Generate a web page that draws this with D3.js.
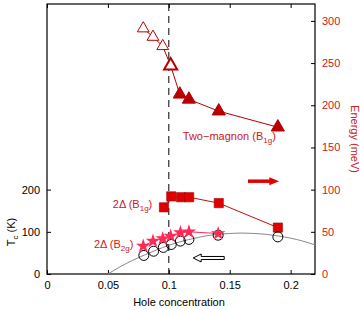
<!DOCTYPE html>
<html>
<head>
<meta charset="utf-8">
<script src="https://cdn.jsdelivr.net/npm/d3@7"></script>
<style>
  body { margin: 0; background: #fff; }
  text { font-family: "Liberation Sans", Arial, sans-serif; }
</style>
</head>
<body>
<svg width="360" height="310"></svg>
<script>
// two-magnon peak, open (underdoped) and filled triangles, energy in meV
var magnonOpenX = [0.079, 0.087, 0.095, 0.1015];
var magnonOpenE = [291, 281, 270, 247];
var magnonFillX = [0.109, 0.1165, 0.141, 0.1895];
var magnonFillE = [213, 207, 193, 174];
// 2Delta B1g (squares), meV
var b1gX = [0.096, 0.102, 0.110, 0.1167, 0.141, 0.1895];
var b1gE = [79, 92, 91, 91, 84, 55];
// 2Delta B2g (stars), meV
var b2gX = [0.079, 0.087, 0.095, 0.1015, 0.1095, 0.1165, 0.1405];
var b2gE = [33, 39, 42, 45, 49, 50, 48];
// Tc (circles), K
var tcX = [0.0795, 0.0875, 0.0955, 0.102, 0.1095, 0.1165, 0.1405, 0.1895];
var tcK = [44, 54, 63, 70, 78, 82, 92, 88];
// dome, K
var domeX = [0.05, 0.06, 0.07, 0.08, 0.09, 0.10, 0.11, 0.12, 0.13, 0.14, 0.15, 0.16, 0.17, 0.18, 0.19, 0.20, 0.21, 0.22];
var domeK = [0, 17, 32, 45, 57, 68, 77, 84, 90, 94, 96, 97, 96, 94, 90, 85, 78, 69];

var xTicks = [0, 0.05, 0.1, 0.15, 0.2];
var leftTicks = [0, 100, 200];
var rightTicks = [0, 50, 100, 150, 200, 250, 300];

var svg = d3.select("svg");
var margin = {left: 47, right: 45, top: 4, bottom: 36};
var width = 360 - margin.left - margin.right,
    height = 310 - margin.top - margin.bottom;

var dark = "#b80000", red = "#e00000", pink = "#ff2a55", labelRed = "#cc2020";

var x = d3.scaleLinear().domain([0, 0.22]).range([0, width]);
var yK = d3.scaleLinear().domain([0, 640]).range([height, 0]);
var yE = d3.scaleLinear().domain([0, 320]).range([height, 0]);

var g = svg.append("g").attr("transform", "translate(" + margin.left + "," + margin.top + ")");

// axes
var fmtX = function(d) { return d === 0 ? "0" : d3.format("~g")(d); };
g.append("g").attr("transform", "translate(0," + height + ")")
  .call(d3.axisBottom(x).tickValues(xTicks).tickFormat(fmtX).tickSizeInner(-4).tickSizeOuter(0).tickPadding(7));
g.append("g")
  .call(d3.axisTop(x).tickValues(xTicks).tickFormat("").tickSizeInner(-4).tickSizeOuter(0));
g.append("g")
  .call(d3.axisLeft(yK).tickValues(leftTicks).tickSizeInner(-4).tickSizeOuter(0).tickPadding(7));
var ra = g.append("g").attr("transform", "translate(" + width + ",0)")
  .call(d3.axisRight(yE).tickValues(rightTicks).tickSizeInner(-4).tickSizeOuter(0).tickPadding(7));
ra.selectAll("text").attr("fill", labelRed);

g.selectAll(".tick text").attr("font-size", 11).attr("font-family", "Liberation Sans, Arial, sans-serif");
g.selectAll(".domain").remove();
g.append("rect").attr("width", width).attr("height", height)
  .attr("fill", "none").attr("stroke", "#000").attr("stroke-width", 1.2);

// dashed line at 0.1
g.append("line").attr("x1", x(0.1)).attr("x2", x(0.1)).attr("y1", 0).attr("y2", height)
  .attr("stroke", "#000").attr("stroke-dasharray", "7,5").attr("stroke-width", 1);

// dome
g.append("path")
  .datum(domeX.map(function(d, i) { return [d, domeK[i]]; }))
  .attr("fill", "none").attr("stroke", "#888").attr("stroke-width", 1)
  .attr("d", d3.line().x(function(d) { return x(d[0]); }).y(function(d) { return yK(d[1]); }).curve(d3.curveMonotoneX));

function pts(xs, ys) { return xs.map(function(d, i) { return [d, ys[i]]; }); }
var lineE = d3.line().x(function(d) { return x(d[0]); }).y(function(d) { return yE(d[1]); });

// magnon line
var magnon = pts(magnonOpenX, magnonOpenE).concat(pts(magnonFillX, magnonFillE));
g.append("path").datum(magnon).attr("fill", "none").attr("stroke", dark).attr("stroke-width", 1).attr("d", lineE);
g.append("path").datum(pts(b1gX, b1gE)).attr("fill", "none").attr("stroke", "#c01010").attr("stroke-width", 1).attr("d", lineE);
g.append("path").datum(pts(b2gX, b2gE)).attr("fill", "none").attr("stroke", pink).attr("stroke-width", 1).attr("d", lineE);

var tri = d3.symbol().type(d3.symbolTriangle);
g.selectAll(".topen").data(pts(magnonOpenX, magnonOpenE)).enter().append("path")
  .attr("transform", function(d) { return "translate(" + x(d[0]) + "," + yE(d[1]) + ")"; })
  .attr("d", function(d, i) { return tri.size(i === 3 ? 75 : 60)(); })
  .attr("fill", "#fff").attr("stroke", dark)
  .attr("stroke-width", function(d, i) { return i === 3 ? 2 : 1; });
g.selectAll(".tfill").data(pts(magnonFillX, magnonFillE)).enter().append("path")
  .attr("transform", function(d) { return "translate(" + x(d[0]) + "," + yE(d[1]) + ")"; })
  .attr("d", tri.size(75)())
  .attr("fill", dark).attr("stroke", dark);

g.selectAll(".sq").data(pts(b1gX, b1gE)).enter().append("path")
  .attr("transform", function(d) { return "translate(" + x(d[0]) + "," + yE(d[1]) + ")"; })
  .attr("d", d3.symbol().type(d3.symbolSquare).size(85)())
  .attr("fill", red).attr("stroke", "#a00000").attr("stroke-width", 0.6);

g.selectAll(".circ").data(pts(tcX, tcK)).enter().append("circle")
  .attr("cx", function(d) { return x(d[0]); }).attr("cy", function(d) { return yK(d[1]); })
  .attr("r", 5).attr("fill", "none").attr("stroke", "#000").attr("stroke-width", 1);

g.selectAll(".star").data(pts(b2gX, b2gE)).enter().append("path")
  .attr("transform", function(d) { return "translate(" + x(d[0]) + "," + yE(d[1]) + ")"; })
  .attr("d", d3.symbol().type(d3.symbolStar).size(65)())
  .attr("fill", pink).attr("stroke", "none");

// arrows
var ar = g.append("g");
ar.append("line").attr("x1", x(0.165)).attr("x2", x(0.184)).attr("y1", yE(110)).attr("y2", yE(110))
  .attr("stroke", red).attr("stroke-width", 3.5);
ar.append("path").attr("fill", red)
  .attr("d", "M" + x(0.1825) + "," + (yE(110) - 4) + "L" + x(0.1905) + "," + yE(110) + "L" + x(0.1825) + "," + (yE(110) + 4) + "Z");
var ay = yK(38), ax0 = x(0.12), ax1 = x(0.1455);
ar.append("path").attr("fill", "#fff").attr("stroke", "#000").attr("stroke-width", 1)
  .attr("d", "M" + ax0 + "," + ay + "L" + (ax0 + 8) + "," + (ay - 4) + "L" + (ax0 + 8) + "," + (ay - 1.5) +
    "L" + ax1 + "," + (ay - 1.5) + "L" + ax1 + "," + (ay + 1.5) + "L" + (ax0 + 8) + "," + (ay + 1.5) +
    "L" + (ax0 + 8) + "," + (ay + 4) + "Z");

// labels
function subLabel(px, py, main, sub, color) {
  var t = g.append("text").attr("x", px).attr("y", py).attr("font-size", 11).attr("fill", color);
  t.append("tspan").text(main);
  t.append("tspan").attr("font-size", 8).attr("dy", 3).text(sub);
  t.append("tspan").attr("dy", -3).text(")");
  return t;
}
subLabel(x(0.1115), yE(159), "Two\u2212magnon (B", "1g", labelRed);
subLabel(x(0.054), yE(78), "2\u0394 (B", "1g", labelRed);
subLabel(x(0.0385), yE(31), "2\u0394 (B", "2g", labelRed);

svg.append("text").attr("x", margin.left + width / 2 - 2).attr("y", 306)
  .attr("text-anchor", "middle").attr("font-size", 11).text("Hole concentration");

var tl = svg.append("text").attr("transform", "translate(15,232) rotate(-90)")
  .attr("text-anchor", "middle").attr("font-size", 11);
tl.append("tspan").text("T");
tl.append("tspan").attr("font-size", 8).attr("dy", 3).text("c");
tl.append("tspan").attr("dy", -3).text(" (K)");

svg.append("text").attr("transform", "translate(351,139) rotate(90)")
  .attr("text-anchor", "middle").attr("font-size", 11).attr("fill", labelRed).text("Energy (meV)");
</script>
</body>
</html>
